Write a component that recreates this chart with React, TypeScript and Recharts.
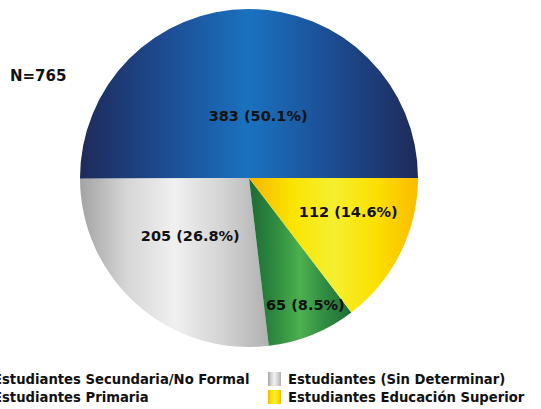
import { PieChart, Pie, Cell, Legend } from 'recharts'

const groups = [
  'Estudiantes Secundaria/No Formal',
  'Estudiantes (Sin Determinar)',
  'Estudiantes Primaria',
  'Estudiantes Educación Superior',
]
const counts = [383, 205, 65, 112]
const shares = ['50.1%', '26.8%', '8.5%', '14.6%']
const totalLabel = 'N=765'

const FONT = 'Verdana, "DejaVu Sans", sans-serif'

// gradient stops per slice (horizontal, across each slice's own box)
const gradients = [
  ['#1e2a5a', '#1d4c92', '#1a72bf', '#1c4c92', '#1e2a5a'],
  ['#a3a3a3', '#d6d6d6', '#f0f0f0', '#d4d4d4', '#b0b0b0'],
  ['#1e6a35', '#2f8a40', '#4cb04f', '#2f8a40', '#216b36'],
  ['#f8b500', '#fbe300', '#f5ef30', '#fbe000', '#fbbb00'],
]
const swatches = gradients.map((g) => `linear-gradient(to right, ${g.join(', ')})`)

// where each value label sits: fraction of radius, turn from mid angle (deg)
const labelSpots = [
  { frac: 0.37, turn: -8.5 },
  { frac: 0.49, turn: -3.6 },
  { frac: 0.82, turn: 2 },
  { frac: 0.62, turn: 7.7 },
]

const data = groups.map((name, i) => ({ name, value: counts[i], share: shares[i] }))

const RAD = Math.PI / 180

function ValueLabel(props: any) {
  const { cx, cy, midAngle, outerRadius, index, payload } = props
  const spot = labelSpots[index]
  const a = (midAngle + spot.turn) * RAD
  const r = outerRadius * spot.frac
  const x = cx + r * Math.cos(a)
  const y = cy - r * Math.sin(a)
  return (
    <text x={x} y={y} textAnchor="middle" dominantBaseline="central" fill="#111" fontSize={14.5} fontWeight="bold" fontFamily={FONT}>
      {`${payload.value} (${payload.share})`}
    </text>
  )
}

function LegendBox() {
  return (
    <div style={{ display: 'grid', gridTemplateColumns: '295px 260px', rowGap: 4, fontFamily: FONT, fontWeight: 'bold', fontSize: 13.2, color: '#111' }}>
      {groups.map((g, i) => (
        <div key={g} style={{ display: 'flex', alignItems: 'center', whiteSpace: 'nowrap', height: 14 }}>
          <span style={{ width: 13, height: 14, background: swatches[i], marginRight: 7, flex: 'none' }} />
          {g}
        </div>
      ))}
    </div>
  )
}

export default function App() {
  return (
    <div style={{ position: 'absolute', left: 0, top: 0, width: 541, height: 409, background: '#fff', overflow: 'hidden' }}>
      <div style={{ position: 'absolute', left: 10, top: 67, fontFamily: FONT, fontWeight: 'bold', fontSize: 15, color: '#111' }}>{totalLabel}</div>
      <PieChart width={541} height={409} margin={{ top: 0, right: 0, bottom: 0, left: 0 }}>
        <defs>
          {gradients.map((g, i) => (
            <linearGradient key={i} id={`slice${i}`} x1="0" y1="0" x2="1" y2="0">
              {g.map((c, j) => (
                <stop key={j} offset={j / (g.length - 1)} stopColor={c} />
              ))}
            </linearGradient>
          ))}
        </defs>
        <Pie
          data={data}
          dataKey="value"
          cx={249}
          cy={178}
          outerRadius={169}
          startAngle={0}
          endAngle={360}
          stroke="none"
          label={ValueLabel}
          labelLine={false}
          isAnimationActive={false}
        >
          {data.map((_, i) => (
            <Cell key={i} fill={`url(#slice${i})`} />
          ))}
        </Pie>
        <Legend content={() => <LegendBox />} wrapperStyle={{ position: 'absolute', left: -27, top: 372, width: 600, bottom: 'auto' }} />
      </PieChart>
    </div>
  )
}
